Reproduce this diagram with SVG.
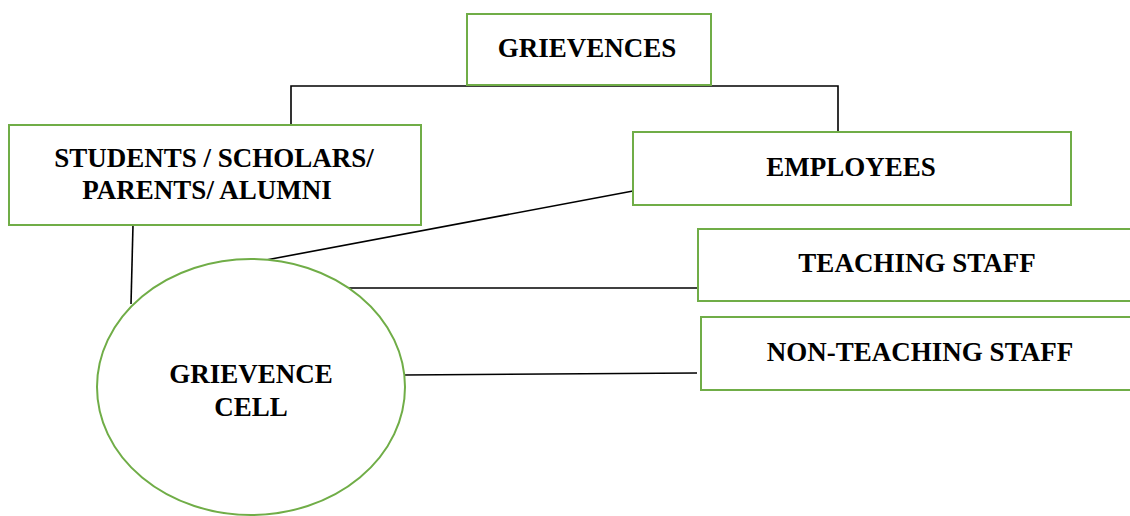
<svg xmlns="http://www.w3.org/2000/svg" width="1130" height="516" viewBox="0 0 1130 516">
<style>
.box{fill:#fff;stroke:#70ad47;stroke-width:2}
.t{font-family:'Liberation Serif','Times New Roman',serif;font-weight:bold;font-size:27px;fill:#000;text-anchor:middle}
.c{stroke:#000;stroke-width:1.6;fill:none}
</style>
<rect width="1130" height="516" fill="#fff"/>
<g id="connectors">
<polyline class="c" points="291,125 291,86 838,86 838,132"/>
<line class="c" x1="133" y1="225" x2="131" y2="304"/>
<line class="c" x1="633" y1="191" x2="266" y2="260"/>
<line class="c" x1="340" y1="288" x2="698" y2="288"/>
<line class="c" x1="404" y1="375" x2="697" y2="373"/>
</g>
<g id="grievences">
<rect class="box" x="467" y="14" width="244" height="71"/>
<text class="t" x="587" y="57">GRIEVENCES</text>
</g>
<g id="students">
<rect class="box" x="9" y="125" width="412" height="100"/>
<text class="t" x="214" y="167">STUDENTS / SCHOLARS/</text>
<text class="t" x="207" y="199">PARENTS/ ALUMNI</text>
</g>
<g id="employees">
<rect class="box" x="633" y="132" width="438" height="73"/>
<text class="t" x="851" y="176">EMPLOYEES</text>
</g>
<g id="teaching">
<rect class="box" x="698" y="229" width="440" height="72"/>
<text class="t" x="917" y="272">TEACHING STAFF</text>
</g>
<g id="nonteaching">
<rect class="box" x="701" y="317" width="437" height="73"/>
<text class="t" x="920" y="361">NON-TEACHING STAFF</text>
</g>
<g id="cell">
<ellipse class="box" cx="251" cy="387" rx="154" ry="128"/>
<text class="t" x="251" y="383">GRIEVENCE</text>
<text class="t" x="251" y="416">CELL</text>
</g>
</svg>
